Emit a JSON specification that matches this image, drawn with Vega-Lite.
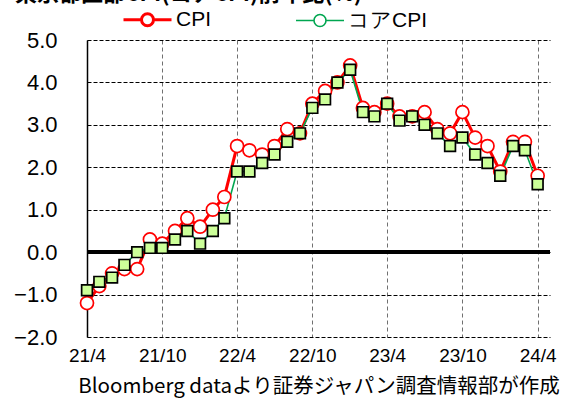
{
  "$schema": "https://vega.github.io/schema/vega-lite/v6.json",
  "width": 463,
  "height": 297,
  "autosize": {"type": "none"},
  "padding": {"left": 87, "top": 40, "right": 19, "bottom": 64},
  "background": "white",
  "title": {
    "text": "東京都区部CPI(コアCPI)前年比(%)",
    "anchor": "start",
    "frame": "group",
    "dx": -72,
    "dy": 34,
    "offset": 0,
    "baseline": "bottom",
    "fontSize": 22,
    "font": "Noto Sans CJK JP",
    "fontWeight": "bold",
    "color": "black"
  },
  "data": {
    "values": [
      {"date": "2021-04-01", "series": "CPI", "value": -1.2},
      {"date": "2021-05-01", "series": "CPI", "value": -0.8},
      {"date": "2021-06-01", "series": "CPI", "value": -0.5},
      {"date": "2021-07-01", "series": "CPI", "value": -0.4},
      {"date": "2021-08-01", "series": "CPI", "value": -0.4},
      {"date": "2021-09-01", "series": "CPI", "value": 0.3},
      {"date": "2021-10-01", "series": "CPI", "value": 0.2},
      {"date": "2021-11-01", "series": "CPI", "value": 0.5},
      {"date": "2021-12-01", "series": "CPI", "value": 0.8},
      {"date": "2022-01-01", "series": "CPI", "value": 0.6},
      {"date": "2022-02-01", "series": "CPI", "value": 1.0},
      {"date": "2022-03-01", "series": "CPI", "value": 1.3},
      {"date": "2022-04-01", "series": "CPI", "value": 2.5},
      {"date": "2022-05-01", "series": "CPI", "value": 2.4},
      {"date": "2022-06-01", "series": "CPI", "value": 2.3},
      {"date": "2022-07-01", "series": "CPI", "value": 2.5},
      {"date": "2022-08-01", "series": "CPI", "value": 2.9},
      {"date": "2022-09-01", "series": "CPI", "value": 2.8},
      {"date": "2022-10-01", "series": "CPI", "value": 3.5},
      {"date": "2022-11-01", "series": "CPI", "value": 3.8},
      {"date": "2022-12-01", "series": "CPI", "value": 4.0},
      {"date": "2023-01-01", "series": "CPI", "value": 4.4},
      {"date": "2023-02-01", "series": "CPI", "value": 3.4},
      {"date": "2023-03-01", "series": "CPI", "value": 3.3},
      {"date": "2023-04-01", "series": "CPI", "value": 3.5},
      {"date": "2023-05-01", "series": "CPI", "value": 3.2},
      {"date": "2023-06-01", "series": "CPI", "value": 3.2},
      {"date": "2023-07-01", "series": "CPI", "value": 3.3},
      {"date": "2023-08-01", "series": "CPI", "value": 2.9},
      {"date": "2023-09-01", "series": "CPI", "value": 2.8},
      {"date": "2023-10-01", "series": "CPI", "value": 3.3},
      {"date": "2023-11-01", "series": "CPI", "value": 2.7},
      {"date": "2023-12-01", "series": "CPI", "value": 2.5},
      {"date": "2024-01-01", "series": "CPI", "value": 1.9},
      {"date": "2024-02-01", "series": "CPI", "value": 2.6},
      {"date": "2024-03-01", "series": "CPI", "value": 2.6},
      {"date": "2024-04-01", "series": "CPI", "value": 1.8},
      {"date": "2021-04-01", "series": "コアCPI", "value": -0.9},
      {"date": "2021-05-01", "series": "コアCPI", "value": -0.7},
      {"date": "2021-06-01", "series": "コアCPI", "value": -0.6},
      {"date": "2021-07-01", "series": "コアCPI", "value": -0.3},
      {"date": "2021-08-01", "series": "コアCPI", "value": 0.0},
      {"date": "2021-09-01", "series": "コアCPI", "value": 0.1},
      {"date": "2021-10-01", "series": "コアCPI", "value": 0.1},
      {"date": "2021-11-01", "series": "コアCPI", "value": 0.3},
      {"date": "2021-12-01", "series": "コアCPI", "value": 0.5},
      {"date": "2022-01-01", "series": "コアCPI", "value": 0.2},
      {"date": "2022-02-01", "series": "コアCPI", "value": 0.5},
      {"date": "2022-03-01", "series": "コアCPI", "value": 0.8},
      {"date": "2022-04-01", "series": "コアCPI", "value": 1.9},
      {"date": "2022-05-01", "series": "コアCPI", "value": 1.9},
      {"date": "2022-06-01", "series": "コアCPI", "value": 2.1},
      {"date": "2022-07-01", "series": "コアCPI", "value": 2.3},
      {"date": "2022-08-01", "series": "コアCPI", "value": 2.6},
      {"date": "2022-09-01", "series": "コアCPI", "value": 2.8},
      {"date": "2022-10-01", "series": "コアCPI", "value": 3.4},
      {"date": "2022-11-01", "series": "コアCPI", "value": 3.6},
      {"date": "2022-12-01", "series": "コアCPI", "value": 4.0},
      {"date": "2023-01-01", "series": "コアCPI", "value": 4.3},
      {"date": "2023-02-01", "series": "コアCPI", "value": 3.3},
      {"date": "2023-03-01", "series": "コアCPI", "value": 3.2},
      {"date": "2023-04-01", "series": "コアCPI", "value": 3.5},
      {"date": "2023-05-01", "series": "コアCPI", "value": 3.1},
      {"date": "2023-06-01", "series": "コアCPI", "value": 3.2},
      {"date": "2023-07-01", "series": "コアCPI", "value": 3.0},
      {"date": "2023-08-01", "series": "コアCPI", "value": 2.8},
      {"date": "2023-09-01", "series": "コアCPI", "value": 2.5},
      {"date": "2023-10-01", "series": "コアCPI", "value": 2.7},
      {"date": "2023-11-01", "series": "コアCPI", "value": 2.3},
      {"date": "2023-12-01", "series": "コアCPI", "value": 2.1},
      {"date": "2024-01-01", "series": "コアCPI", "value": 1.8},
      {"date": "2024-02-01", "series": "コアCPI", "value": 2.5},
      {"date": "2024-03-01", "series": "コアCPI", "value": 2.4},
      {"date": "2024-04-01", "series": "コアCPI", "value": 1.6}
    ]
  },
  "encoding": {
    "x": {
      "field": "date",
      "type": "temporal",
      "scale": {
        "type": "utc",
        "domain": [
          {"year": 2021, "month": 4, "date": 1, "utc": true},
          {"year": 2024, "month": 5, "date": 1, "utc": true}
        ]
      },
      "axis": {
        "values": [
          {"year": 2021, "month": 4, "date": 1, "utc": true},
          {"year": 2021, "month": 10, "date": 1, "utc": true},
          {"year": 2022, "month": 4, "date": 1, "utc": true},
          {"year": 2022, "month": 10, "date": 1, "utc": true},
          {"year": 2023, "month": 4, "date": 1, "utc": true},
          {"year": 2023, "month": 10, "date": 1, "utc": true},
          {"year": 2024, "month": 4, "date": 1, "utc": true}
        ],
        "format": "%y/%-m",
        "grid": true,
        "gridColor": "#707070",
        "gridDash": [4, 3],
        "gridWidth": 1,
        "domain": false,
        "ticks": false,
        "labelFlush": false,
        "labelFont": "Liberation Sans",
        "labelFontSize": 19,
        "labelColor": "black",
        "labelPadding": 9,
        "title": "Bloomberg dataより証券ジャパン調査情報部が作成",
        "titleFont": "Noto Sans CJK JP",
        "titleFontSize": 20.5,
        "titleFontWeight": "normal",
        "titleColor": "black",
        "titlePadding": 11
      }
    },
    "y": {
      "field": "value",
      "type": "quantitative",
      "scale": {"domain": [-2, 5], "nice": false, "zero": false},
      "axis": {
        "values": [-2, -1, 0, 1, 2, 3, 4, 5],
        "format": ".1f",
        "grid": true,
        "gridColor": "black",
        "gridDash": [4, 2],
        "gridWidth": 1,
        "domain": true,
        "domainColor": "black",
        "domainWidth": 1.5,
        "ticks": false,
        "labelPadding": 30,
        "labelFont": "Liberation Sans",
        "labelFontSize": 22,
        "labelColor": "black",
        "title": null
      }
    }
  },
  "layer": [
    {
      "mark": {"type": "rule", "color": "black", "strokeWidth": 3},
      "encoding": {"y": {"datum": 0}, "x": null}
    },
    {
      "mark": {"type": "line"},
      "encoding": {
        "color": {
          "field": "series",
          "type": "nominal",
          "scale": {"range": ["#ff0000", "#00a650"]},
          "legend": {
            "orient": "none",
            "legendX": 35,
            "legendY": -46,
            "direction": "horizontal",
            "title": null,
            "symbolType": "M-1,0L-0.25,0M0.25,0L1,0M-0.25,0A0.25,0.25,0,1,0,0.25,0A0.25,0.25,0,1,0,-0.25,0Z",
            "symbolSize": 2304,
            "symbolFillColor": "#ffffff",
            "labelFont": "Liberation Sans",
            "labelFontSize": 21,
            "labelColor": "black",
            "labelOffset": 3,
            "columnPadding": 80
          }
        },
        "strokeWidth": {
          "field": "series",
          "type": "nominal",
          "scale": {"range": [3, 1.6]},
          "legend": {
            "orient": "none",
            "legendX": 35,
            "legendY": -46,
            "direction": "horizontal",
            "title": null,
            "symbolType": "M-1,0L-0.25,0M0.25,0L1,0M-0.25,0A0.25,0.25,0,1,0,0.25,0A0.25,0.25,0,1,0,-0.25,0Z",
            "symbolSize": 2304,
            "symbolFillColor": "#ffffff",
            "labelFont": "Liberation Sans",
            "labelFontSize": 21,
            "labelColor": "black",
            "labelOffset": 3,
            "columnPadding": 80
          }
        }
      }
    },
    {
      "mark": {"type": "point", "filled": false, "opacity": 1, "strokeWidth": 1.7},
      "encoding": {
        "shape": {
          "field": "series",
          "type": "nominal",
          "scale": {"domain": ["CPI", "コアCPI"], "range": ["circle", "square"]},
          "legend": null
        },
        "fill": {
          "field": "series",
          "type": "nominal",
          "scale": {"domain": ["CPI", "コアCPI"], "range": ["#ffffff", "#ccff99"]},
          "legend": null
        },
        "stroke": {
          "field": "series",
          "type": "nominal",
          "scale": {"domain": ["CPI", "コアCPI"], "range": ["#ff0000", "#000000"]},
          "legend": null
        },
        "size": {
          "field": "series",
          "type": "nominal",
          "scale": {"domain": ["CPI", "コアCPI"], "range": [169, 115]},
          "legend": null
        }
      }
    }
  ],
  "config": {
    "view": {"stroke": null},
    "font": "Liberation Sans"
  }
}
